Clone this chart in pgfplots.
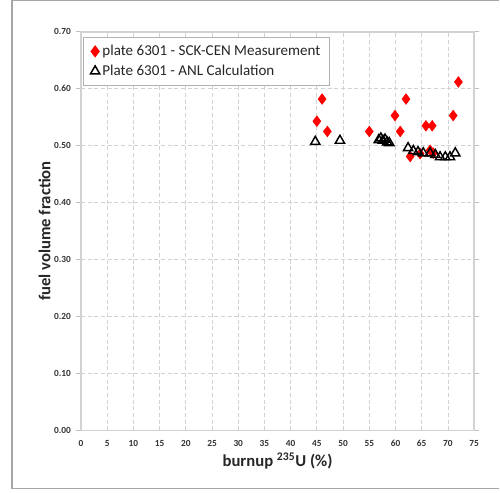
\documentclass[border=0pt]{standalone}
\usepackage{pgfplots}
\pgfplotsset{compat=1.18}
\usepackage{fontspec}
\setmainfont{Carlito}
\begin{document}
\begin{tikzpicture}[x=1pt,y=1pt]
\begin{axis}[
  at={(0,0)}, anchor=origin,
  scale only axis,
  width=295pt, height=299pt,
  xmin=0, xmax=75, ymin=0, ymax=0.70,
  xtick={0,5,...,75},
  ytick={0,0.1,...,0.7},
  yticklabel style={/pgf/number format/.cd,fixed,fixed zerofill,precision=2},
  /pgf/number format/assume math mode=true,
  tick label style={font=\bfseries\fontsize{7}{8}\selectfont, text=black!80},
  grid=major,
  major grid style={densely dashed, gray!35, line width=0.6pt},
  axis line style={gray!35, line width=1.2pt},
  tick style={gray!50, line width=0.6pt},
  ytick style={draw=gray!50},
  xtick style={draw=none},
  tick align=outside,
  major tick length=4pt,
  xlabel={burnup \textsuperscript{235}U (\%)},
  ylabel={fuel volume fraction},
  label style={font=\bfseries\fontsize{12.5}{14}\selectfont, text=black!85},
  xlabel style={yshift=2pt},
  ylabel style={yshift=-4pt},
  legend style={at={(0.006,0.988)}, anchor=north west, draw=gray!60, line width=0.8pt,
    font=\fontsize{11.3}{13}\selectfont, text=black!85, row sep=1.5pt,
    inner xsep=5pt, inner ysep=4pt, fill=white},
  legend cell align=left,
  legend image code/.code={\draw[#1] plot coordinates {(0.08cm,0cm)};},
]
\addplot[only marks, mark=diamond*, mark size=4pt, color=red, mark options={fill=red, draw=red}]
coordinates {
(45,0.543) (46,0.582) (47,0.525) (55,0.525) (59.9,0.553) (60.9,0.525)
(62,0.582) (65.8,0.535) (67,0.535) (71,0.553) (72,0.612)
(62.8,0.481) (64.7,0.486) (66.6,0.492) (67.2,0.487)
};
\addlegendentry{plate 6301 - SCK-CEN Measurement\hspace{10pt}}
\addplot[only marks, mark=triangle, mark size=4pt, color=black, line width=1.1pt]
coordinates {
(44.7,0.507) (49.4,0.509)
(56.8,0.510) (57.2,0.513) (57.6,0.509) (58.0,0.511) (58.4,0.506) (58.8,0.505)
(62.4,0.496) (63.4,0.491) (64.3,0.489) (65.3,0.487) (66.6,0.487)
(67.6,0.484) (68.5,0.480) (69.5,0.480) (70.4,0.480) (71.4,0.487)
};
\addlegendentry{Plate 6301 - ANL Calculation}
\end{axis}
\draw[gray!70, line width=0.8pt] (314,322.5) -- (-51.75,322.5) -- (-51.75,-43.5) -- (314,-43.5);
\useasboundingbox (-60.75,-46.5) rectangle (314,322.5);
\end{tikzpicture}
\end{document}
